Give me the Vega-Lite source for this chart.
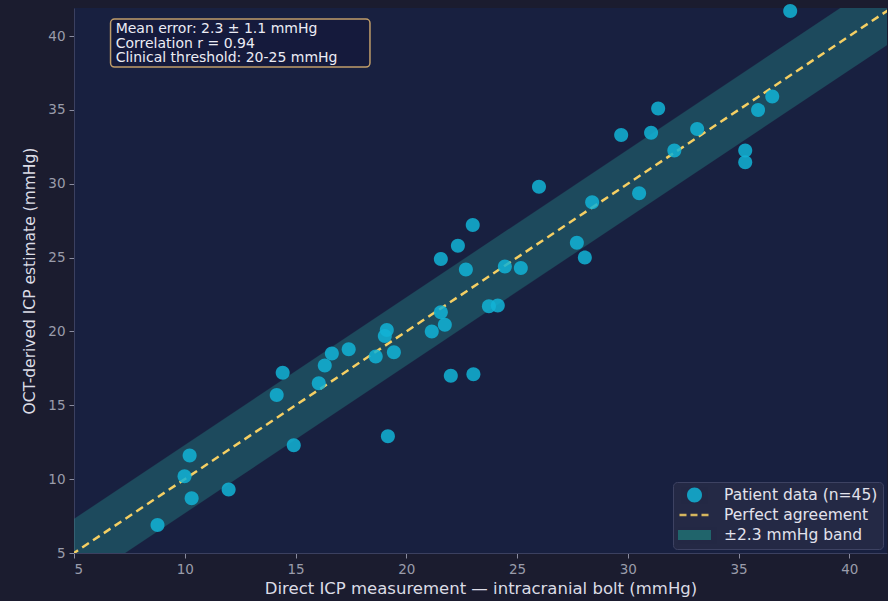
{
  "$schema": "https://vega.github.io/schema/vega-lite/v6.json",
  "width": 813,
  "height": 545,
  "autosize": {"type": "none"},
  "padding": {"left": 74, "top": 8, "right": 1, "bottom": 48},
  "background": "#1b1c2f",
  "config": {
    "view": {"fill": "#182040", "stroke": null},
    "font": "DejaVu Sans",
    "axis": {
      "labelColor": "#9a9cab",
      "labelFontSize": 13.5,
      "labelFont": "DejaVu Sans",
      "titleColor": "#dcdce6",
      "titleFont": "DejaVu Sans",
      "titleFontWeight": "normal",
      "domainColor": "#3b4060",
      "tickColor": "#8a8ca0",
      "tickSize": 5,
      "labelPadding": 4,
      "grid": false
    },
    "legend": {
      "orient": "bottom-right",
      "offset": 4,
      "fillColor": "#242945",
      "strokeColor": "#3d4262",
      "padding": 5,
      "cornerRadius": 4,
      "labelColor": "#e2e2ec",
      "labelFontSize": 15.5,
      "labelFont": "DejaVu Sans",
      "labelOffset": 13,
      "rowPadding": 3,
      "clipHeight": 16,
      "symbolSize": 900,
      "symbolStrokeWidth": 2.5
    }
  },
  "layer": [
    {
      "data": {"values": [
        {"x": 0, "lo": -2.3, "hi": 2.3},
        {"x": 50, "lo": 47.7, "hi": 52.3}
      ]},
      "mark": {"type": "area", "clip": true, "color": "#2aa39a", "opacity": 0.32, "stroke": "#35b8ac", "strokeOpacity": 0.25, "strokeWidth": 1},
      "encoding": {
        "x": {"field": "x", "type": "quantitative", "scale": {"domain": [5, 41.7], "nice": false, "zero": false}},
        "y": {"field": "lo", "type": "quantitative", "scale": {"domain": [5, 41.9], "nice": false, "zero": false}},
        "y2": {"field": "hi"}
      }
    },
    {
      "data": {"values": [{"x": 0, "y": 0}, {"x": 50, "y": 50}]},
      "mark": {"type": "line", "clip": true, "color": "#f5cf63", "strokeWidth": 2.5, "strokeDash": [8, 5]},
      "encoding": {
        "x": {"field": "x", "type": "quantitative"},
        "y": {"field": "y", "type": "quantitative"}
      }
    },
    {
      "data": {"values": [
        {"direct": 8.77, "oct": 6.9},
        {"direct": 9.99, "oct": 10.2},
        {"direct": 10.22, "oct": 11.6},
        {"direct": 10.31, "oct": 8.7},
        {"direct": 11.98, "oct": 9.3},
        {"direct": 14.15, "oct": 15.7},
        {"direct": 14.42, "oct": 17.2},
        {"direct": 14.92, "oct": 12.3},
        {"direct": 16.05, "oct": 16.5},
        {"direct": 16.32, "oct": 17.7},
        {"direct": 16.64, "oct": 18.5},
        {"direct": 17.4, "oct": 18.8},
        {"direct": 18.62, "oct": 18.3},
        {"direct": 19.03, "oct": 19.7},
        {"direct": 19.12, "oct": 20.1},
        {"direct": 19.17, "oct": 12.9},
        {"direct": 19.44, "oct": 18.6},
        {"direct": 21.15, "oct": 20.0},
        {"direct": 21.56, "oct": 21.3},
        {"direct": 21.74, "oct": 20.45},
        {"direct": 21.56, "oct": 24.9},
        {"direct": 22.01, "oct": 17.0},
        {"direct": 22.33, "oct": 25.8},
        {"direct": 22.69, "oct": 24.2},
        {"direct": 23.0, "oct": 27.2},
        {"direct": 23.03, "oct": 17.1},
        {"direct": 23.73, "oct": 21.7},
        {"direct": 24.13, "oct": 21.75},
        {"direct": 24.45, "oct": 24.4},
        {"direct": 25.17, "oct": 24.3},
        {"direct": 25.99, "oct": 29.8},
        {"direct": 27.7, "oct": 26.0},
        {"direct": 28.06, "oct": 25.0},
        {"direct": 28.39, "oct": 28.75},
        {"direct": 29.7, "oct": 33.3},
        {"direct": 30.51, "oct": 29.35},
        {"direct": 31.05, "oct": 33.45},
        {"direct": 31.37, "oct": 35.1},
        {"direct": 32.1, "oct": 32.25},
        {"direct": 33.13, "oct": 33.7},
        {"direct": 35.3, "oct": 32.25},
        {"direct": 35.3, "oct": 31.45},
        {"direct": 35.88, "oct": 35.0},
        {"direct": 36.52, "oct": 35.9},
        {"direct": 37.33, "oct": 41.7}
      ]},
      "transform": [{"calculate": "'Patient data (n=45)'", "as": "series"}],
      "mark": {"type": "point", "filled": true, "size": 784, "opacity": 0.85, "strokeWidth": 2.5},
      "encoding": {
        "x": {"field": "direct", "type": "quantitative",
              "axis": {"title": "Direct ICP measurement — intracranial bolt (mmHg)", "titleFontSize": 16.5, "values": [5, 10, 15, 20, 25, 30, 35, 40], "titlePadding": 5}},
        "y": {"field": "oct", "type": "quantitative",
              "axis": {"title": "OCT-derived ICP estimate (mmHg)", "titleFontSize": 15.5, "values": [5, 10, 15, 20, 25, 30, 35, 40], "titlePadding": 10}},
        "color": {
          "field": "series", "type": "nominal",
          "scale": {"domain": ["Patient data (n=45)", "Perfect agreement", "±2.3 mmHg band"], "range": ["#12b3d6", "#f5cf63", "#206f72"]},
          "legend": {"title": null}
        },
        "shape": {
          "field": "series", "type": "nominal",
          "scale": {"domain": ["Patient data (n=45)", "Perfect agreement", "±2.3 mmHg band"], "range": ["M0.5,0A0.5,0.5,0,1,1,-0.5,0A0.5,0.5,0,1,1,0.5,0Z", "stroke", "M-1.1,-0.33H1.1V0.33H-1.1Z"]},
          "legend": {"title": null}
        },
        "stroke": {
          "field": "series", "type": "nominal",
          "scale": {"domain": ["Patient data (n=45)", "Perfect agreement", "±2.3 mmHg band"], "range": ["transparent", "#f5cf63", "transparent"]},
          "legend": {"title": null}
        },
        "strokeDash": {
          "field": "series", "type": "nominal",
          "scale": {"domain": ["Patient data (n=45)", "Perfect agreement", "±2.3 mmHg band"], "range": [[1, 0], [7, 4], [1, 0]]},
          "legend": {"title": null}
        }
      }
    },
    {
      "data": {"values": [{}]},
      "mark": {"type": "rect", "fill": "#151a3c", "stroke": "#c9a46c", "strokeWidth": 1.5, "cornerRadius": 4, "opacity": 0.95},
      "encoding": {
        "x": {"datum": 6.65},
        "x2": {"datum": 18.36},
        "y": {"datum": 41.15},
        "y2": {"datum": 37.9}
      }
    },
    {
      "data": {"values": [{}]},
      "mark": {"type": "text", "align": "left", "baseline": "middle", "font": "DejaVu Sans", "fontSize": 14, "color": "#ececf4", "lineHeight": 14.5},
      "encoding": {
        "x": {"datum": 6.88},
        "y": {"datum": 40.45},
        "text": {"value": ["Mean error: 2.3 ± 1.1 mmHg", "Correlation r = 0.94", "Clinical threshold: 20-25 mmHg"]}
      }
    }
  ]
}
